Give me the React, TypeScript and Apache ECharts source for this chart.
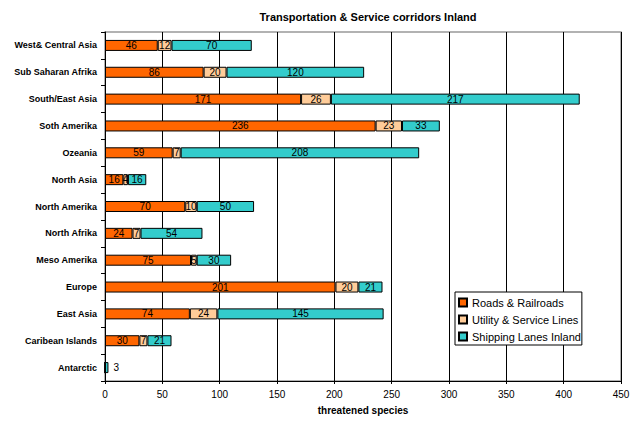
import React, { useEffect, useRef } from "react";
import * as echarts from "echarts";

const categories = [
  "West& Central Asia",
  "Sub Saharan Afrika",
  "South/East Asia",
  "Soth Amerika",
  "Ozeania",
  "North Asia",
  "North Amerika",
  "North Afrika",
  "Meso Amerika",
  "Europe",
  "East Asia",
  "Caribean Islands",
  "Antarctic",
];
const roads = [46, 86, 171, 236, 59, 16, 70, 24, 75, 201, 74, 30, 0];
const utility = [12, 20, 26, 23, 7, 4, 10, 7, 5, 20, 24, 7, 0];
const shipping = [70, 120, 217, 33, 208, 16, 50, 54, 30, 21, 145, 21, 3];
const seriesNames = ["Roads & Railroads", "Utility & Service Lines", "Shipping Lanes Inland"];
const colors = ["#FF6600", "#FFCC99", "#33CCCC"];
const xTicks = [0, 50, 100, 150, 200, 250, 300, 350, 400, 450];

export default function App() {
  const ref = useRef<HTMLDivElement>(null);
  useEffect(() => {
    if (!ref.current) return;
    const chart = echarts.init(ref.current, undefined, { renderer: "svg" });
    const font = "'Liberation Sans', Arial, sans-serif";
    const mk = (name: string, data: number[], color: string, idx: number) => ({
      name,
      type: "bar",
      stack: "total",
      barWidth: 11,
      data: data.map((v) => {
        if (idx === 2 && v > 0 && v < 6) {
          return { value: v, label: { position: "right" } };
        }
        return v;
      }),
      itemStyle: { color, borderColor: "#000", borderWidth: 1 },
      label: {
        show: true,
        position: "inside",
        color: "#000",
        fontSize: 10,
        fontFamily: font,
        formatter: (p: any) => (p.value === 0 ? "" : String(p.value)),
      },
    });
    chart.setOption({
      animation: false,
      backgroundColor: "#fff",
      title: {
        text: "Transportation & Service corridors Inland",
        left: 363,
        textAlign: "center",
        top: 6,
        textStyle: { fontSize: 11, fontWeight: "bold", fontFamily: font, color: "#000" },
      },
      legend: {
        orient: "vertical",
        left: 455,
        top: 292,
        itemWidth: 8,
        itemHeight: 8,
        itemGap: 4,
        padding: [4, 1, 2, 3],
        borderColor: "#000",
        borderWidth: 1,
        backgroundColor: "#fff",
        icon: "rect",
        textStyle: { fontSize: 11, fontFamily: font, color: "#000", lineHeight: 13 },
        data: seriesNames,
      },
      grid: {
        left: 105,
        right: 21,
        top: 32,
        bottom: 40,
        show: true,
        borderColor: "#999",
        borderWidth: 1.5,
      },
      xAxis: {
        type: "value",
        min: 0,
        max: 450,
        interval: 50,
        name: "threatened species",
        nameLocation: "middle",
        nameGap: 24,
        nameTextStyle: { fontSize: 10, fontWeight: "bold", fontFamily: font, color: "#000" },
        axisLine: { show: true, lineStyle: { color: "#000" } },
        axisTick: { show: true, length: 3, lineStyle: { color: "#000" } },
        axisLabel: {
          fontSize: 10,
          fontFamily: font,
          color: "#000",
          margin: 8,
          formatter: (v: number) => (xTicks.includes(v) ? String(v) : ""),
        },
        splitLine: { show: true, lineStyle: { color: "#000", width: 1 } },
      },
      yAxis: {
        type: "category",
        inverse: true,
        data: categories,
        axisLine: { show: true, lineStyle: { color: "#000" } },
        axisTick: { show: true, length: 4, lineStyle: { color: "#000" } },
        axisLabel: {
          fontSize: 9,
          fontWeight: "bold",
          fontFamily: font,
          color: "#000",
          margin: 8,
        },
      },
      series: [
        mk(seriesNames[0], roads, colors[0], 0),
        mk(seriesNames[1], utility, colors[1], 1),
        mk(seriesNames[2], shipping, colors[2], 2),
      ],
    });
    return () => chart.dispose();
  }, []);
  return <div ref={ref} style={{ width: 642, height: 421, position: "absolute", left: 0, top: 0 }} />;
}
